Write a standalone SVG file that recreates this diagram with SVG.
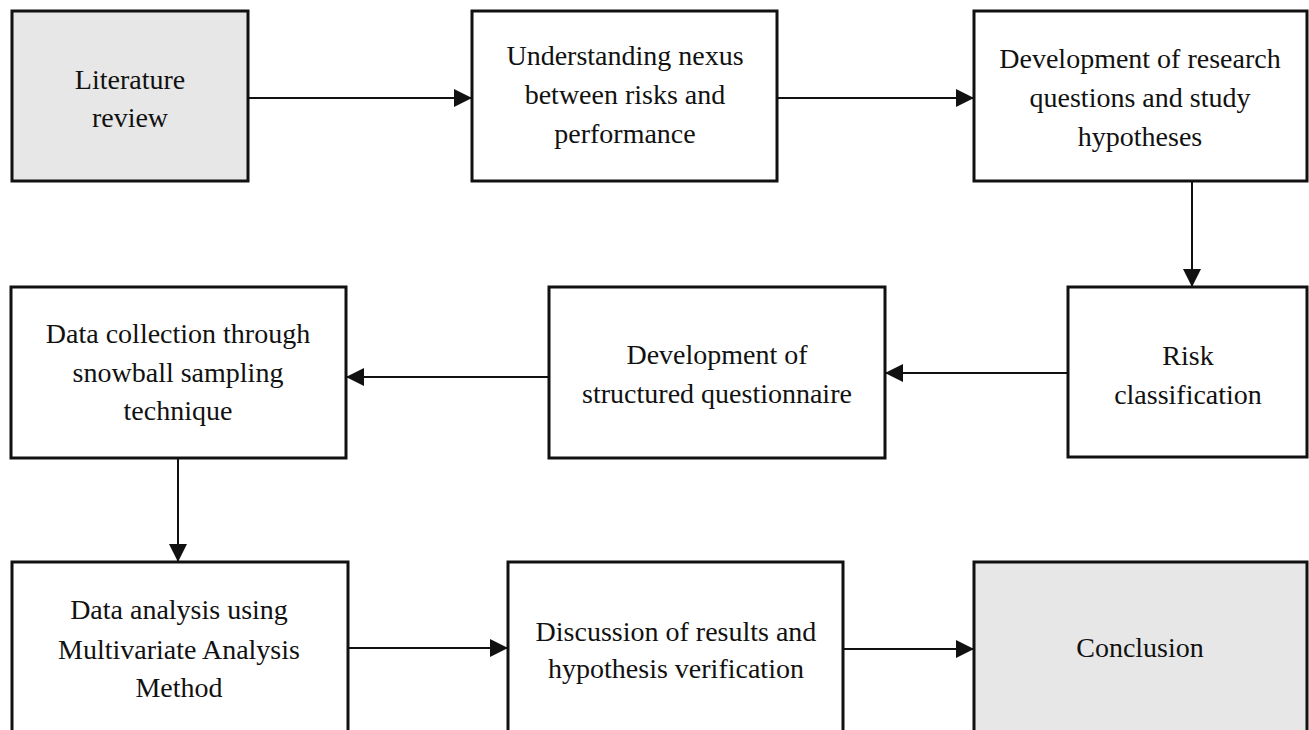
<svg xmlns="http://www.w3.org/2000/svg" width="1309" height="730" viewBox="0 0 1309 730">
  <defs>
    <marker id="arrow" markerUnits="userSpaceOnUse" markerWidth="20" markerHeight="18" refX="18" refY="9" orient="auto">
      <path d="M0,0 L18,9 L0,18 Z" fill="#111"/>
    </marker>
    <style>
      .box { fill: #ffffff; stroke: #111; stroke-width: 3; }
      .grey { fill: #e7e7e7; }
      .lbl { font-family: "Liberation Serif", "Times New Roman", serif; font-size: 28px; fill: #111; text-anchor: middle; }
      .conn { stroke: #111; stroke-width: 2; fill: none; marker-end: url(#arrow); }
    </style>
  </defs>
  <rect width="1309" height="730" fill="#ffffff"/>

  <g id="connectors">
    <line class="conn" x1="248" y1="98" x2="472" y2="98"/>
    <line class="conn" x1="777" y1="98" x2="974" y2="98"/>
    <line class="conn" x1="1192" y1="181" x2="1192" y2="287"/>
    <line class="conn" x1="1068" y1="373" x2="885" y2="373"/>
    <line class="conn" x1="549" y1="377" x2="346" y2="377"/>
    <line class="conn" x1="178" y1="458" x2="178" y2="562"/>
    <line class="conn" x1="348" y1="648" x2="508" y2="648"/>
    <line class="conn" x1="843" y1="649" x2="974" y2="649"/>
  </g>

  <g id="literature-review">
    <rect class="box grey" x="12" y="11" width="236" height="170"/>
    <text class="lbl" x="130" y="89">Literature</text>
    <text class="lbl" x="130" y="127">review</text>
  </g>

  <g id="understanding-nexus">
    <rect class="box" x="472" y="11" width="305" height="170"/>
    <text class="lbl" x="625" y="65">Understanding nexus</text>
    <text class="lbl" x="625" y="104">between risks and</text>
    <text class="lbl" x="625" y="143">performance</text>
  </g>

  <g id="research-questions">
    <rect class="box" x="974" y="11" width="333" height="170"/>
    <text class="lbl" x="1140" y="68">Development of research</text>
    <text class="lbl" x="1140" y="107">questions and study</text>
    <text class="lbl" x="1140" y="146">hypotheses</text>
  </g>

  <g id="risk-classification">
    <rect class="box" x="1068" y="287" width="239" height="170"/>
    <text class="lbl" x="1188" y="365">Risk</text>
    <text class="lbl" x="1188" y="404">classification</text>
  </g>

  <g id="questionnaire">
    <rect class="box" x="549" y="287" width="336" height="171"/>
    <text class="lbl" x="717" y="364">Development of</text>
    <text class="lbl" x="717" y="403">structured questionnaire</text>
  </g>

  <g id="data-collection">
    <rect class="box" x="11" y="287" width="335" height="171"/>
    <text class="lbl" x="178" y="343">Data collection through</text>
    <text class="lbl" x="178" y="382">snowball sampling</text>
    <text class="lbl" x="178" y="420">technique</text>
  </g>

  <g id="data-analysis">
    <rect class="box" x="12" y="562" width="336" height="180"/>
    <text class="lbl" x="179" y="619">Data analysis using</text>
    <text class="lbl" x="179" y="659">Multivariate Analysis</text>
    <text class="lbl" x="179" y="697">Method</text>
  </g>

  <g id="discussion">
    <rect class="box" x="508" y="562" width="335" height="180"/>
    <text class="lbl" x="676" y="641">Discussion of results and</text>
    <text class="lbl" x="676" y="678">hypothesis verification</text>
  </g>

  <g id="conclusion">
    <rect class="box grey" x="974" y="562" width="333" height="180"/>
    <text class="lbl" x="1140" y="657">Conclusion</text>
  </g>
</svg>
